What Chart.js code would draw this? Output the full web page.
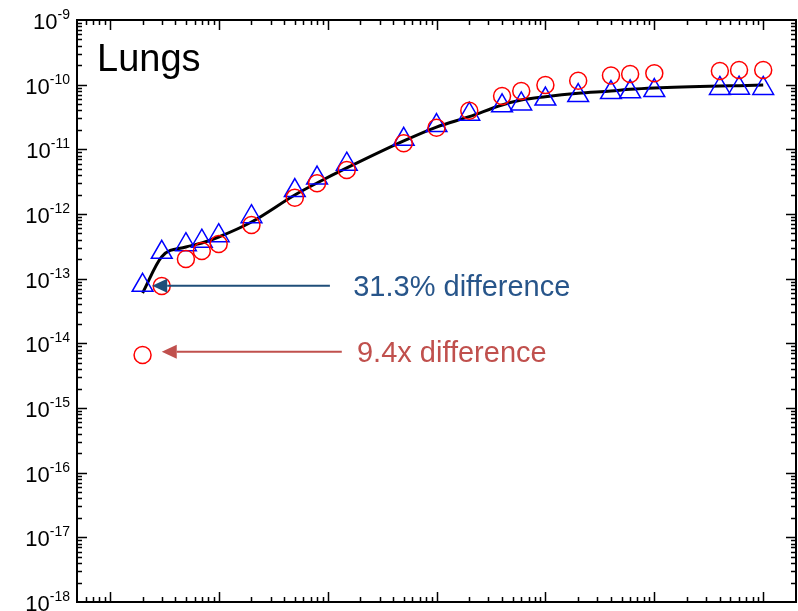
<!DOCTYPE html>
<html>
<head>
<meta charset="utf-8">
<script src="https://cdn.jsdelivr.net/npm/chart.js@4.4.1/dist/chart.umd.min.js"></script>
<style>
  html, body { margin: 0; padding: 0; background: #ffffff; }
  #wrap { width: 798px; height: 611px; position: relative; }
</style>
</head>
<body>
<div id="wrap"><canvas id="c"></canvas></div>
<script>
// ---- data ----
const days = [2, 3, 5, 7, 10, 20, 50, 80, 150, 500, 1000, 2000, 4000, 6000, 10000, 20000, 40000, 60000, 100000, 400000, 600000, 1000000];
const triangleValues = [7.9e-14, 2.56e-13, 3.35e-13, 3.79e-13, 4.62e-13, 9.1e-13, 2.30e-12, 3.6e-12, 5.9e-12, 1.43e-11, 2.33e-11, 3.49e-11, 4.7e-11, 5.04e-11, 5.98e-11, 6.78e-11, 7.54e-11, 7.76e-11, 8.09e-11, 8.75e-11, 8.82e-11, 8.75e-11];
const circleValues = [6.6e-15, 7.7e-14, 2.01e-13, 2.68e-13, 3.44e-13, 6.76e-13, 1.79e-12, 2.98e-12, 4.8e-12, 1.24e-11, 2.16e-11, 3.96e-11, 6.68e-11, 7.98e-11, 9.88e-11, 1.15e-10, 1.39e-10, 1.46e-10, 1.50e-10, 1.63e-10, 1.69e-10, 1.69e-10];
const lineValues = [6.0e-14, 2.19e-13, 3.09e-13, 3.56e-13, 4.41e-13, 7.52e-13, 1.97e-12, 3.02e-12, 5.15e-12, 1.35e-11, 2.21e-11, 3.2e-11, 4.85e-11, 5.79e-11, 6.52e-11, 7.36e-11, 7.98e-11, 8.48e-11, 8.89e-11, 9.53e-11, 9.64e-11, 9.88e-11];
const xRange = [0.5, 2e6];
const yTickExponents = [-18, -17, -16, -15, -14, -13, -12, -11, -10, -9];
const panelTitle = "Lungs";
const annotationTexts = ["31.3% difference", "9.4x difference"];
const annotationTips = [[2.45, 7.8e-14], [3.0, 7.43e-15]];
const annotationTails = [[105, 7.8e-14], [135, 7.43e-15]];
const annotationTextAt = [[172, 7.8e-14], [186, 7.43e-15]];

// ---- helpers ----
const FONT = '"Liberation Sans", Arial, Helvetica, sans-serif';
const toXY = (ys) => days.map((d, i) => ({ x: d, y: ys[i] }));

function drawArrow(ctx, x1, y1, x2, y2, color) {
  const ang = Math.atan2(y2 - y1, x2 - x1);
  const headLen = 15, headHalf = 7;
  const bx = x2 - Math.cos(ang) * headLen, by = y2 - Math.sin(ang) * headLen;
  ctx.save();
  ctx.strokeStyle = color; ctx.fillStyle = color; ctx.lineWidth = 2;
  ctx.beginPath(); ctx.moveTo(x1, y1); ctx.lineTo(bx, by); ctx.stroke();
  ctx.beginPath();
  ctx.moveTo(x2, y2);
  ctx.lineTo(bx - Math.sin(ang) * headHalf, by + Math.cos(ang) * headHalf);
  ctx.lineTo(bx + Math.sin(ang) * headHalf, by - Math.cos(ang) * headHalf);
  ctx.closePath(); ctx.fill();
  ctx.restore();
}

const framePlugin = {
  id: 'framePlugin',
  afterDraw(chart) {
    const ctx = chart.ctx;
    const xs = chart.scales.x, ys = chart.scales.y;
    const a = chart.chartArea;
    ctx.save();
    ctx.strokeStyle = '#000'; ctx.lineWidth = 2;
    ctx.strokeRect(a.left, a.top, a.right - a.left, a.bottom - a.top);
    ctx.lineWidth = 1.5;
    const majorLen = 10, minorLen = 5;
    const xd0 = Math.floor(Math.log10(xs.min)), xd1 = Math.ceil(Math.log10(xs.max));
    for (let d = xd0; d <= xd1; d++) {
      for (let m = 1; m <= 9; m++) {
        const v = m * Math.pow(10, d);
        if (v <= xs.min * 1.0001 || v >= xs.max * 0.9999) continue;
        const px = Math.round(xs.getPixelForValue(v)) + 0.5;
        const len = m === 1 ? majorLen : minorLen;
        ctx.beginPath();
        ctx.moveTo(px, a.bottom); ctx.lineTo(px, a.bottom - len);
        ctx.moveTo(px, a.top); ctx.lineTo(px, a.top + len);
        ctx.stroke();
      }
    }
    const yd0 = Math.floor(Math.log10(ys.min)), yd1 = Math.ceil(Math.log10(ys.max));
    for (let d = yd0; d <= yd1; d++) {
      for (let m = 1; m <= 9; m++) {
        const v = m * Math.pow(10, d);
        if (v <= ys.min * 1.0001 || v >= ys.max * 0.9999) continue;
        const py = Math.round(ys.getPixelForValue(v)) + 0.5;
        const len = m === 1 ? majorLen : minorLen;
        ctx.beginPath();
        ctx.moveTo(a.left, py); ctx.lineTo(a.left + len, py);
        ctx.moveTo(a.right, py); ctx.lineTo(a.right - len, py);
        ctx.stroke();
      }
    }
    ctx.fillStyle = '#000';
    ctx.textBaseline = 'alphabetic';
    const labelRight = 70;
    yTickExponents.forEach(e => {
      const py = ys.getPixelForValue(Math.pow(10, e));
      const expStr = '-' + Math.abs(e);
      ctx.font = '14px ' + FONT;
      const ew = ctx.measureText(expStr).width;
      ctx.textAlign = 'right';
      ctx.fillText(expStr, labelRight, py - 1);
      ctx.font = '22px ' + FONT;
      ctx.fillText('10', labelRight - ew, py + 9);
    });
    ctx.textAlign = 'left';
    ctx.font = '38px ' + FONT;
    ctx.fillStyle = '#000';
    ctx.fillText(panelTitle, 97, 71);
    const colors = ['#1F4E79', '#C0504D'];
    const textColors = ['#27558A', '#C0504D'];
    for (let i = 0; i < annotationTexts.length; i++) {
      const tx = xs.getPixelForValue(annotationTails[i][0]), ty = ys.getPixelForValue(annotationTails[i][1]);
      const hx = xs.getPixelForValue(annotationTips[i][0]), hy = ys.getPixelForValue(annotationTips[i][1]);
      drawArrow(ctx, tx, ty, hx, hy, colors[i]);
      ctx.font = '29px ' + FONT;
      ctx.fillStyle = textColors[i];
      ctx.textAlign = 'left';
      ctx.fillText(annotationTexts[i], xs.getPixelForValue(annotationTextAt[i][0]), ys.getPixelForValue(annotationTextAt[i][1]) + 10.5);
    }
    ctx.restore();
  }
};

new Chart(document.getElementById('c'), {
  type: 'line',
  data: {
    datasets: [
      {
        label: 'circles',
        data: toXY(circleValues),
        showLine: false,
        pointStyle: 'circle',
        pointRadius: 8.5,
        pointBorderWidth: 1.5,
        pointBorderColor: '#FF0000',
        pointBackgroundColor: 'rgba(0,0,0,0)',
        order: 0
      },
      {
        label: 'triangles',
        data: toXY(triangleValues),
        showLine: false,
        pointStyle: 'triangle',
        pointRadius: 12,
        pointBorderWidth: 1.5,
        pointBorderColor: '#0000FF',
        pointBackgroundColor: 'rgba(0,0,0,0)',
        order: 1
      },
      {
        label: 'model',
        data: toXY(lineValues),
        borderColor: '#000000',
        borderWidth: 3,
        pointRadius: 0,
        fill: false,
        cubicInterpolationMode: 'monotone',
        order: 2
      }
    ]
  },
  options: {
    responsive: true,
    maintainAspectRatio: false,
    animation: false,
    events: [],
    layout: { autoPadding: false, padding: { left: 77, right: 2, top: 20, bottom: 9 } },
    plugins: { legend: { display: false }, tooltip: { enabled: false }, title: { display: false } },
    scales: {
      x: { type: 'logarithmic', min: xRange[0], max: xRange[1], display: false },
      y: { type: 'logarithmic', min: Math.pow(10, yTickExponents[0]), max: Math.pow(10, yTickExponents[yTickExponents.length - 1]), display: false }
    }
  },
  plugins: [framePlugin]
});
</script>
</body>
</html>
